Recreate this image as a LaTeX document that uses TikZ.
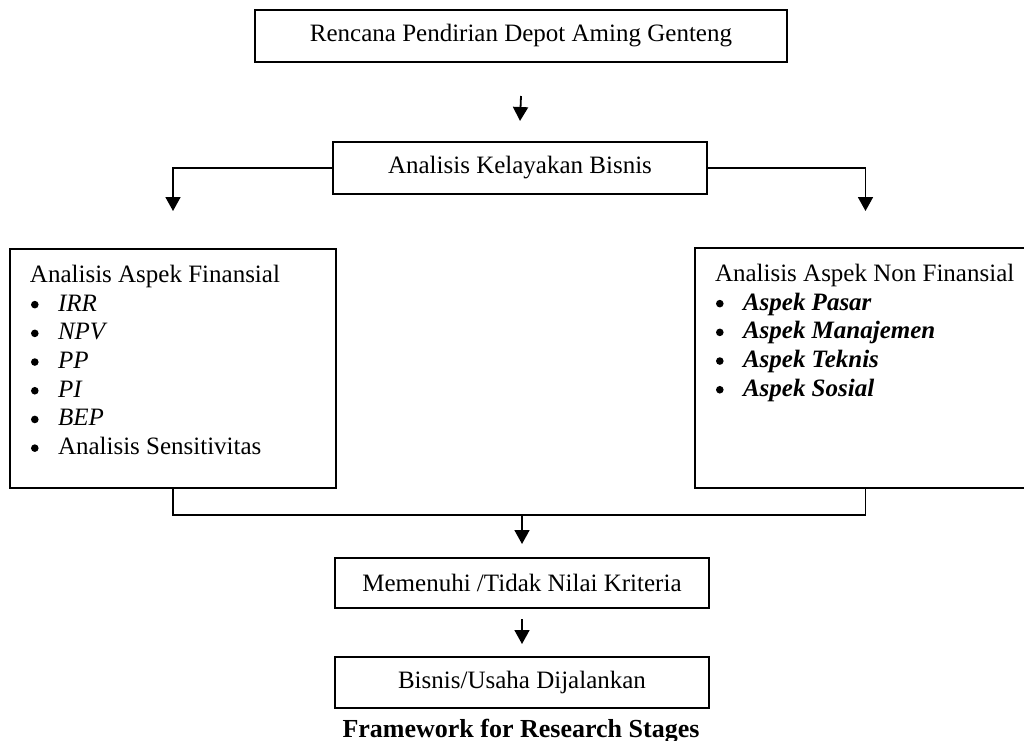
\documentclass[tikz,border=0pt]{standalone}
\usepackage{fontspec}
\setmainfont{Liberation Serif}
\usepackage{tikz}
\usetikzlibrary{arrows.meta, positioning, calc}

\newcommand{\butir}[1]{\par\makebox[14pt][l]{\hspace{0.5pt}\tikz[baseline=-3.2pt]\fill (0,0) circle[radius=1.9pt];}#1}

\begin{document}
\begin{tikzpicture}[x=0.5pt, y=-0.5pt,
    every node/.style={font=\fontsize{12.5}{14.35}\selectfont},
    stagebox/.style={draw, line width=1pt, inner sep=0pt, align=center},
    listbox/.style={draw, line width=1pt, inner xsep=10pt, inner ysep=8pt, anchor=north west},
    flowarrow/.style={line width=0.9pt, -{Triangle[length=7pt, width=7.5pt]}},
    flowline/.style={line width=0.9pt}]
  \useasboundingbox (0,0) rectangle (1024,740);
  \clip (0,0) rectangle (1024,740);

  % alur utama
  \node[stagebox, minimum width=266pt, minimum height=26pt] (rencana) at (521,36) {Rencana Pendirian Depot Aming Genteng};
  \node[stagebox, minimum width=187pt, minimum height=26pt] (kelayakan) at (520,168) {Analisis Kelayakan Bisnis};

  % dua aspek analisis
  \node[listbox] (finansial) at (9,248) {\parbox[t][103.5pt][t]{143pt}{\raggedright
      Analisis Aspek Finansial
      \butir{\textit{IRR}}
      \butir{\textit{NPV}}
      \butir{\textit{PP}}
      \butir{\textit{PI}}
      \butir{\textit{BEP}}
      \butir{Analisis Sensitivitas}}};
  \node[listbox] (nonfinansial) at (694,247) {\parbox[t][104pt][t]{150.5pt}{\raggedright
      Analisis Aspek Non Finansial
      \butir{\textbf{\textit{Aspek Pasar}}}
      \butir{\textbf{\textit{Aspek Manajemen}}}
      \butir{\textbf{\textit{Aspek Teknis}}}
      \butir{\textbf{\textit{Aspek Sosial}}}}};

  % hasil
  \node[stagebox, minimum width=187pt, minimum height=25pt] (memenuhi) at (522,583) {Memenuhi /Tidak Nilai Kriteria};
  \node[stagebox, minimum width=187pt, minimum height=25.5pt] (bisnis) at (522,682.5) {Bisnis/Usaha Dijalankan};
  \node[anchor=base, font=\fontsize{13}{15}\selectfont\bfseries] (judul) at (521,737) {Framework for Research Stages};

  % panah
  \draw[flowarrow] ([yshift=-16.5pt]rencana.south) -- ([yshift=10pt]kelayakan.north);
  \draw[flowarrow] (kelayakan.west) -| ([yshift=18.5pt]finansial.north);
  \draw[flowarrow] (kelayakan.east) -| ([yshift=18pt]nonfinansial.north);
  \draw[flowline] (finansial.south) -- ++(0,-13pt) coordinate (gabung) -| (nonfinansial.south);
  \draw[flowarrow] (gabung -| memenuhi.north) -- ([yshift=6.5pt]memenuhi.north);
  \draw[flowarrow] ([yshift=-5pt]memenuhi.south) -- ([yshift=6pt]bisnis.north);
\end{tikzpicture}
\end{document}
